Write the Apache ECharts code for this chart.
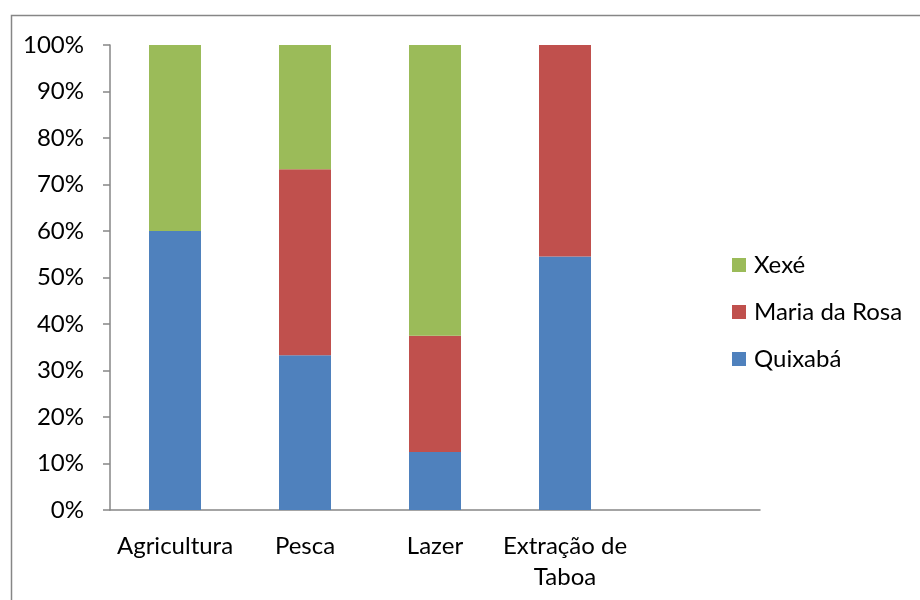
<!DOCTYPE html>
<html>
<head>
<meta charset="utf-8">
<script src="https://cdn.jsdelivr.net/npm/echarts@6/dist/echarts.min.js"></script>
<style>
  html, body { margin: 0; padding: 0; background: #fff; }
  #chart { width: 920px; height: 600px; }
</style>
</head>
<body>
<div id="chart"></div>
<script>
// Activity categories (last slot left empty on the axis)
const categories = ['Agricultura', 'Pesca', 'Lazer', 'Extração de\nTaboa', ''];

// Share of each community per activity, in percent
const quixaba = [60, 33.3, 12.5, 54.5, null];
const mariaDaRosa = [0, 40, 25, 45.5, null];
const xexe = [40, 26.7, 62.5, 0, null];

const seriesNames = ['Quixabá', 'Maria da Rosa', 'Xexé'];
const legendOrder = ['Xexé', 'Maria da Rosa', 'Quixabá'];

const FONT = 'Lato, "Open Sans", sans-serif';
const FONT_SIZE = 24;
const AXIS_GRAY = '#868686';

const chart = echarts.init(document.getElementById('chart'));

function barSeries(name, values, color) {
  return {
    name: name,
    type: 'bar',
    stack: 'total',
    barWidth: 52,
    data: values,
    itemStyle: { color: color, borderWidth: 0 },
    emphasis: { disabled: true }
  };
}

chart.setOption({
  animation: false,
  backgroundColor: '#fff',
  graphic: [{
    type: 'rect',
    shape: { x: 11.5, y: 15.5, width: 1000, height: 1000 },
    style: { fill: 'none', stroke: AXIS_GRAY, lineWidth: 1.5 },
    silent: true
  }],
  grid: { left: 110, top: 45, right: 160, bottom: 90 },
  legend: {
    orient: 'vertical',
    left: 732,
    top: 253,
    padding: 0,
    itemWidth: 14,
    itemHeight: 14,
    itemGap: 23,
    icon: 'rect',
    data: legendOrder,
    textStyle: { fontFamily: FONT, fontSize: FONT_SIZE, color: '#000', padding: [0, 0, 0, 3] }
  },
  xAxis: {
    type: 'category',
    data: categories,
    boundaryGap: true,
    axisLine: { lineStyle: { color: AXIS_GRAY, width: 1.5 } },
    axisTick: { length: 8, lineStyle: { color: AXIS_GRAY, width: 1.5 } },
    axisLabel: {
      interval: 0,
      margin: 21,
      color: '#000',
      fontFamily: FONT,
      fontSize: FONT_SIZE,
      lineHeight: 31,
      align: 'center'
    }
  },
  yAxis: {
    type: 'value',
    min: 0,
    max: 100,
    interval: 10,
    axisLine: { show: true, lineStyle: { color: AXIS_GRAY, width: 1.5 } },
    axisTick: { show: true, length: 7, lineStyle: { color: AXIS_GRAY, width: 1.5 } },
    splitLine: { show: false },
    axisLabel: {
      margin: 26,
      color: '#000',
      fontFamily: FONT,
      fontSize: FONT_SIZE,
      formatter: '{value}%'
    }
  },
  series: [
    barSeries(seriesNames[0], quixaba, '#4F81BD'),
    barSeries(seriesNames[1], mariaDaRosa, '#C0504D'),
    barSeries(seriesNames[2], xexe, '#9BBB59')
  ]
});
</script>
</body>
</html>
